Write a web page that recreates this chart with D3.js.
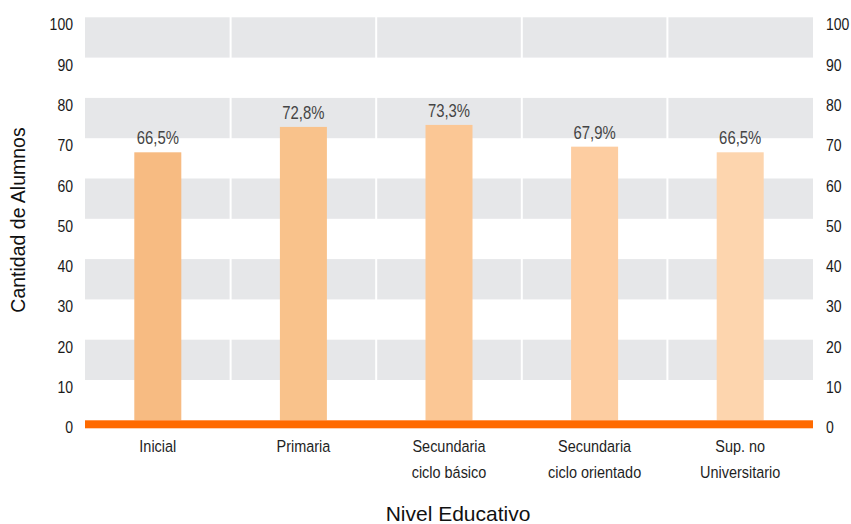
<!DOCTYPE html>
<html>
<head>
<meta charset="utf-8">
<script src="https://cdn.jsdelivr.net/npm/d3@7"></script>
<style>
  html, body { margin: 0; padding: 0; background: #fff; }
  svg { display: block; }
  .cond { font-family: "Liberation Sans", Arial, sans-serif; }
  .reg { font-family: "Liberation Sans", Arial, sans-serif; }
</style>
</head>
<body>
<svg id="chart" width="851" height="524"></svg>
<script>
const categories = ["Inicial", "Primaria", "Secundaria\nciclo básico", "Secundaria\nciclo orientado", "Sup. no\nUniversitario"];
const values = [66.5, 72.8, 73.3, 67.9, 66.5];
const valueLabels = ["66,5%", "72,8%", "73,3%", "67,9%", "66,5%"];
const barColors = ["#f7bb82", "#f9c28b", "#fbc795", "#fdcda1", "#fdd5ae"];
const tickValues = [0, 10, 20, 30, 40, 50, 60, 70, 80, 90, 100];
const grayBands = [[90, 100], [70, 80], [50, 60], [30, 40], [10, 20]];
const yTitle = "Cantidad de Alumnos";
const xTitle = "Nivel Educativo";

(function () {
const svg = d3.select("#chart");
const mLeft = 85, mRight = 813, mTop = 17.3, mBottom = 420.3;
const SX = 0.85; // horizontal condensation for the narrow labels

const x = d3.scaleBand().domain(categories).range([mLeft, mRight]).paddingInner(0).paddingOuter(0);
const y = d3.scaleLinear().domain([0, 100]).range([mBottom, mTop]);

// gray bands
svg.append("g").selectAll("rect").data(grayBands).join("rect")
  .attr("x", mLeft).attr("width", mRight - mLeft)
  .attr("y", d => y(d[1])).attr("height", d => y(d[0]) - y(d[1]))
  .attr("fill", "#e6e7e9");

// white separators between columns
svg.append("g").selectAll("rect").data(categories.slice(1)).join("rect")
  .attr("x", d => x(d) - 1).attr("width", 2)
  .attr("y", mTop - 1).attr("height", mBottom - mTop + 1)
  .attr("fill", "#fff");

// bars
const barW = 47;
svg.append("g").selectAll("rect").data(categories).join("rect")
  .attr("x", d => x(d) + x.bandwidth() / 2 - barW / 2)
  .attr("width", barW)
  .attr("y", (d, i) => y(values[i]))
  .attr("height", (d, i) => y(0) - y(values[i]))
  .attr("fill", (d, i) => barColors[i]);

// baseline orange
svg.append("rect").attr("x", mLeft).attr("width", mRight - mLeft)
  .attr("y", y(0)).attr("height", 8).attr("fill", "#ff6a00");

// value labels
svg.append("g").selectAll("g").data(categories).join("g")
  .attr("transform", (d, i) => `translate(${x(d) + x.bandwidth() / 2},${y(values[i]) - 8}) scale(${SX},1)`)
  .append("text")
  .attr("class", "cond")
  .attr("text-anchor", "middle")
  .attr("font-size", 17.5)
  .attr("fill", "#444")
  .text((d, i) => valueLabels[i]);

// left axis
const yAxisL = d3.axisLeft(y).tickValues(tickValues).tickSize(0).tickPadding(0);
const gL = svg.append("g").attr("transform", "translate(73,12.5)").call(yAxisL);
gL.select(".domain").remove();
gL.attr("font-family", null).attr("font-size", null);
gL.selectAll("text").attr("class", "cond").attr("font-size", 16.5).attr("fill", "#1a1a1a")
  .attr("dy", 0).attr("transform", `scale(${SX},1)`);

// right axis
const yAxisR = d3.axisRight(y).tickValues(tickValues).tickSize(0).tickPadding(0);
const gR = svg.append("g").attr("transform", "translate(826,12.5)").call(yAxisR);
gR.select(".domain").remove();
gR.attr("font-family", null).attr("font-size", null);
gR.selectAll("text").attr("class", "cond").attr("font-size", 16.5).attr("fill", "#1a1a1a")
  .attr("dy", 0).attr("transform", `scale(${SX},1)`);

// category labels
const catG = svg.append("g").selectAll("g").data(categories).join("g")
  .attr("transform", d => `translate(${x(d) + x.bandwidth() / 2},0) scale(${SX},1)`)
  .append("text")
  .attr("class", "cond")
  .attr("text-anchor", "middle")
  .attr("font-size", 17)
  .attr("fill", "#1f1f1f");
catG.each(function (d) {
  const t = d3.select(this);
  d.split("\n").forEach((line, j) => {
    t.append("tspan").attr("x", 0).attr("y", 452 + j * 26).text(line);
  });
});

// axis titles
svg.append("text").attr("class", "reg")
  .attr("x", 458).attr("y", 521).attr("text-anchor", "middle")
  .attr("font-size", 21).attr("fill", "#111").text(xTitle);

svg.append("text").attr("class", "reg")
  .attr("transform", "translate(25,220) rotate(-90)")
  .attr("text-anchor", "middle")
  .attr("font-size", 19.5).attr("fill", "#111").text(yTitle);
})();
</script>
</body>
</html>
